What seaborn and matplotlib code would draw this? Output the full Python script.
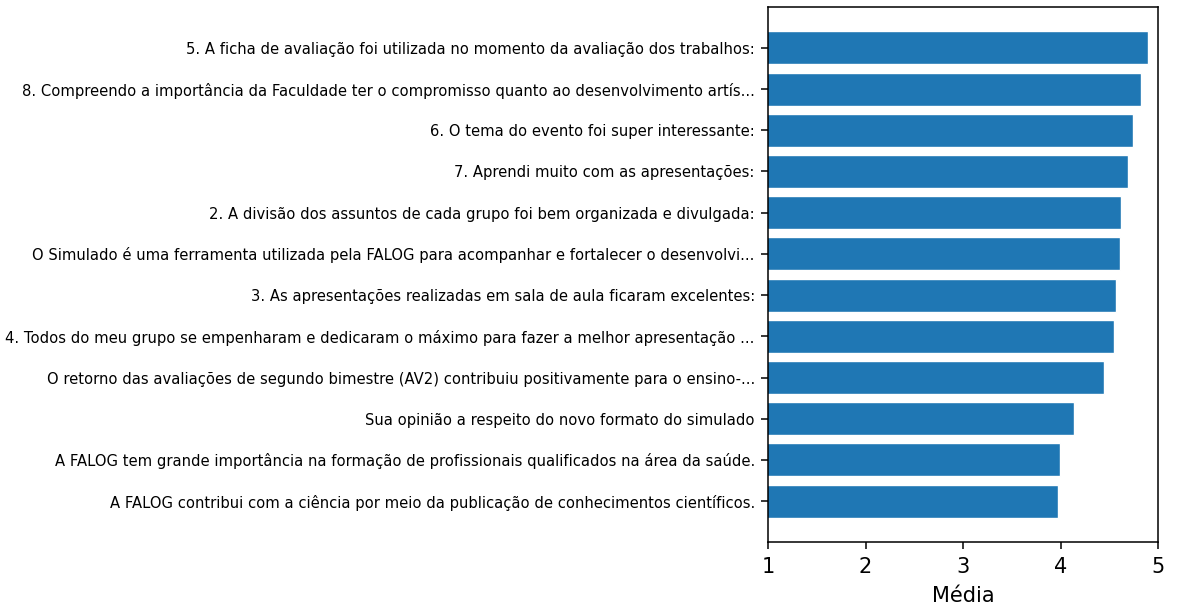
import matplotlib
matplotlib.use("Agg")
import matplotlib.pyplot as plt
import seaborn as sns
import pandas as pd

# Perguntas (ordem de cima para baixo) e médias
perguntas = [
    "5. A ficha de avaliação foi utilizada no momento da avaliação dos trabalhos:",
    "8. Compreendo a importância da Faculdade ter o compromisso quanto ao desenvolvimento artís...",
    "6. O tema do evento foi super interessante:",
    "7. Aprendi muito com as apresentações:",
    "2. A divisão dos assuntos de cada grupo foi bem organizada e divulgada:",
    "O Simulado é uma ferramenta utilizada pela FALOG para acompanhar e fortalecer o desenvolvi...",
    "3. As apresentações realizadas em sala de aula ficaram excelentes:",
    "4. Todos do meu grupo se empenharam e dedicaram o máximo para fazer a melhor apresentação ...",
    "O retorno das avaliações de segundo bimestre (AV2) contribuiu positivamente para o ensino-...",
    "Sua opinião a respeito do novo formato do simulado",
    "A FALOG tem grande importância na formação de profissionais qualificados na área da saúde.",
    "A FALOG contribui com a ciência por meio da publicação de conhecimentos científicos.",
]
medias = [4.894, 4.825, 4.747, 4.692, 4.620, 4.614, 4.568, 4.552, 4.442, 4.137, 3.990, 3.976]

df = pd.DataFrame({"pergunta": perguntas, "media": medias})

sns.set_style("ticks", rc={
    "text.color": "black",
    "axes.labelcolor": "black",
    "axes.edgecolor": "black",
    "xtick.color": "black",
    "ytick.color": "black",
})
plt.rcParams["font.family"] = ["DejaVu Sans"]

fig = plt.figure(figsize=(11.77, 6.09), dpi=100)
ax = fig.add_axes([0.6525, 0.11, 0.3314, 0.8785])

sns.barplot(data=df, x="media", y="pergunta", orient="h", color="#1f77b4",
            saturation=1, width=0.8, ax=ax)

ax.set_xlim(1, 5)
ax.set_ylim(len(perguntas) - 1 + 0.99, -0.99)
ax.set_xticks([1, 2, 3, 4, 5])
ax.tick_params(axis="x", labelsize=15, length=5, width=1.1, pad=6)
ax.tick_params(axis="y", labelsize=10.6, length=5, width=1.1, pad=4.5)
ax.set_xlabel("Média", fontsize=15, labelpad=6)
ax.set_ylabel("")
for s in ax.spines.values():
    s.set_visible(True)
    s.set_color("black")
    s.set_linewidth(1.1)

fig.savefig("out.png", dpi=100)
